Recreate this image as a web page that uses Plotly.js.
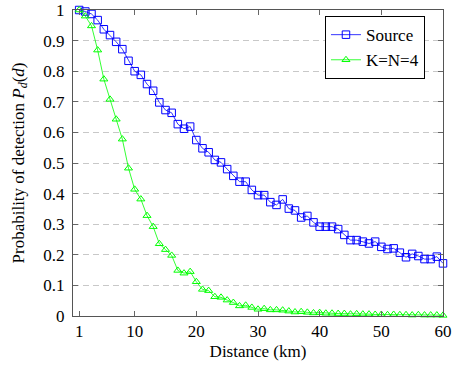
<!DOCTYPE html>
<html><head><meta charset="utf-8">
<script src="https://cdn.plot.ly/plotly-3.0.1.min.js"></script>
<style>html,body{margin:0;padding:0;background:#fff}#chart{width:452px;height:370px}</style>
</head><body><div id="chart"></div>
<script>
const distance = [1,2,3,4,5,6,7,8,9,10,11,12,13,14,15,16,17,18,19,20,21,22,23,24,25,26,27,28,29,30,31,32,33,34,35,36,37,38,39,40,41,42,43,44,45,46,47,48,49,50,51,52,53,54,55,56,57,58,59,60];
const sourcePd = [1.000,0.995,0.987,0.967,0.937,0.918,0.896,0.872,0.834,0.800,0.788,0.758,0.736,0.698,0.673,0.664,0.627,0.612,0.619,0.575,0.548,0.535,0.510,0.502,0.480,0.458,0.439,0.439,0.412,0.395,0.395,0.372,0.363,0.381,0.351,0.345,0.322,0.327,0.306,0.292,0.292,0.292,0.284,0.265,0.248,0.248,0.243,0.237,0.243,0.226,0.219,0.221,0.207,0.192,0.203,0.196,0.186,0.186,0.194,0.172];
const knPd = [1.000,0.980,0.948,0.869,0.774,0.708,0.643,0.578,0.483,0.414,0.382,0.328,0.292,0.236,0.217,0.198,0.149,0.140,0.145,0.112,0.087,0.083,0.063,0.061,0.052,0.044,0.033,0.035,0.028,0.022,0.024,0.020,0.020,0.019,0.016,0.013,0.014,0.012,0.010,0.011,0.009,0.009,0.008,0.008,0.006,0.007,0.006,0.006,0.005,0.005,0.004,0.005,0.004,0.004,0.003,0.004,0.003,0.003,0.003,0.002];
const seriesNames = ['Source','K=N=4'];
const xTicks = [1,10,20,30,40,50,60];
const yTicks = [0,0.1,0.2,0.3,0.4,0.5,0.6,0.7,0.8,0.9,1];
const yTickText = ['0','0.1','0.2','0.3','0.4','0.5','0.6','0.7','0.8','0.9','1'];

const font = 'Liberation Serif';
const traces = [
  {x: distance, y: sourcePd, name: seriesNames[0], type: 'scatter', mode: 'lines+markers', cliponaxis: false,
   line: {color: '#0000ff', width: 0.8},
   marker: {symbol: 'square-open', size: 7.5, color: '#0000ff', line: {width: 1}}},
  {x: distance, y: knPd, name: seriesNames[1], type: 'scatter', mode: 'lines+markers', cliponaxis: false,
   line: {color: '#00ff00', width: 0.8},
   marker: {symbol: 'triangle-up-open', size: 7, color: '#00ff00', line: {width: 1}}}
];
const layout = {
  width: 452, height: 370,
  margin: {l: 73, r: 9, t: 10, b: 54},
  paper_bgcolor: '#fff', plot_bgcolor: '#fff',
  font: {family: font, size: 16, color: '#000'},
  showlegend: true,
  legend: {x: 0.681, y: 0.98, xanchor: 'left', yanchor: 'top', bgcolor: '#fff',
    bordercolor: '#000', borderwidth: 1, font: {family: font, size: 17, color: '#000'}, tracegroupgap: 0},
  xaxis: {range: [0, 60], tickvals: xTicks, ticktext: xTicks.map(String), ticks: 'inside', ticklen: 5,
    tickcolor: '#666', showline: true, linecolor: '#555', linewidth: 1, mirror: 'ticks', showgrid: false,
    zeroline: false, tickfont: {family: font, size: 17, color: '#000'},
    title: {text: 'Distance (km)', font: {family: font, size: 17, color: '#000'}, standoff: 4}},
  yaxis: {range: [0, 1], tickvals: yTicks, ticktext: yTickText, ticks: 'inside', ticklen: 5,
    tickcolor: '#666', showline: true, linecolor: '#555', linewidth: 1, mirror: 'ticks', showgrid: true,
    gridcolor: '#c8c8c8', griddash: '6px,4px', gridwidth: 1, zeroline: false,
    tickfont: {family: font, size: 17, color: '#000'}, ticklabelstandoff: 4,
    title: {text: 'Probability of detection <i>P</i><sub><i>d</i></sub>(<i>d</i>)', font: {family: font, size: 17, color: '#000'}, standoff: 14}}
};
Plotly.newPlot('chart', traces, layout, {displayModeBar: false, staticPlot: true});
</script>
</body></html>
